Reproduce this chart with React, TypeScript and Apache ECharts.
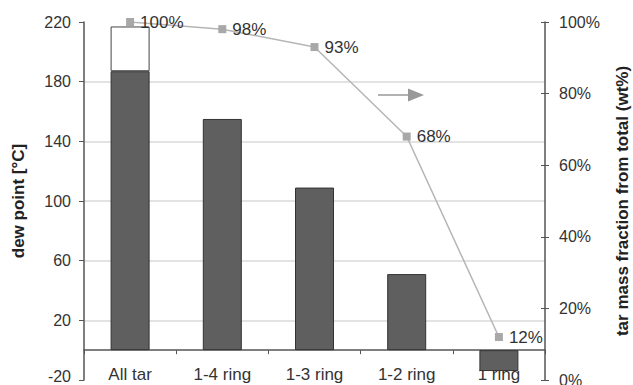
import React, { useEffect, useRef } from "react";
import * as echarts from "echarts";

const categories = ["All tar", "1-4 ring", "1-3 ring", "1-2 ring", "1 ring"];
const dewPoint = [187, 155, 109, 51, -14];
const dewPointExtra = [30, null, null, null, null];
const massFraction = [100, 98, 93, 68, 12];
const leftTicks = { min: -20, max: 220, interval: 40 };
const rightTicks = { min: 0, max: 100, interval: 20 };

const FONT = "Liberation Sans, Arial, sans-serif";

export default function App() {
  const ref = useRef<HTMLDivElement>(null);
  useEffect(() => {
    if (!ref.current) return;
    const chart = echarts.init(ref.current, undefined, { renderer: "svg" });
    chart.setOption({
      animation: false,
      backgroundColor: "#fff",
      textStyle: { fontFamily: FONT },
      grid: {
        left: 84,
        right: 88,
        top: 22,
        bottom: 5,
        containLabel: false,
        outerBoundsMode: "none",
      },
      xAxis: {
        type: "category",
        data: categories,
        axisLine: { show: true, onZero: true, lineStyle: { color: "#555", width: 1.5 } },
        axisTick: { show: true, length: 4, lineStyle: { color: "#555" } },
        axisLabel: { color: "#333", fontSize: 17, margin: -14, fontFamily: FONT },
        splitLine: { show: false },
      },
      yAxis: [
        {
          type: "value",
          position: "left",
          min: leftTicks.min,
          max: leftTicks.max,
          interval: leftTicks.interval,
          name: "dew point [°C]",
          nameLocation: "middle",
          nameGap: 57,
          nameRotate: 90,
          nameTextStyle: { fontSize: 17, fontWeight: "bold", color: "#222", fontFamily: FONT },
          axisLine: { show: true, lineStyle: { color: "#555", width: 1.5 } },
          axisTick: { show: true, length: 5, lineStyle: { color: "#555" } },
          axisLabel: {
            color: "#333",
            fontSize: 16,
            margin: 13,
            fontFamily: FONT,
            formatter: (v: number) => (v === leftTicks.min ? `{m|${v}}` : `${v}`),
            rich: {
              m: {
                color: "#333",
                fontSize: 16,
                fontFamily: FONT,
                padding: [0, 0, 8, 0],
              },
            },
          },
          splitLine: {
            show: true,
            showMinLine: false,
            showMaxLine: false,
            lineStyle: { color: "#dadada", width: 1.5 },
          },
        },
        {
          type: "value",
          position: "right",
          min: rightTicks.min,
          max: rightTicks.max,
          interval: rightTicks.interval,
          name: "tar mass fraction from total (wt%)",
          nameLocation: "middle",
          nameGap: 69,
          nameRotate: 90,
          nameTextStyle: { fontSize: 17, fontWeight: "bold", color: "#222", fontFamily: FONT },
          axisLine: { show: true, lineStyle: { color: "#555", width: 1.5 } },
          axisTick: { show: true, length: 4, lineStyle: { color: "#555" } },
          axisLabel: { color: "#333", fontSize: 16, margin: 14, formatter: "{value}%", fontFamily: FONT },
          splitLine: { show: false },
        },
        {
          type: "value",
          position: "right",
          min: rightTicks.min,
          max: rightTicks.max,
          interval: rightTicks.interval,
          axisLine: { show: false },
          axisTick: { show: true, inside: true, length: 4, lineStyle: { color: "#555" } },
          axisLabel: { show: false },
          splitLine: { show: false },
        },
      ],
      series: [
        {
          type: "bar",
          stack: "dew",
          data: dewPoint,
          barWidth: 39,
          itemStyle: { color: "#5f5f5f", borderColor: "#333", borderWidth: 1 },
        },
        {
          type: "bar",
          stack: "dew",
          data: dewPointExtra,
          barWidth: 39,
          itemStyle: { color: "#fff", borderColor: "#444", borderWidth: 1 },
        },
        {
          type: "line",
          yAxisIndex: 1,
          data: massFraction,
          symbol: "rect",
          symbolSize: 8,
          z: 5,
          lineStyle: { color: "#b5b5b5", width: 1.5 },
          itemStyle: { color: "#a8a8a8" },
          label: {
            show: true,
            position: "right",
            distance: 6,
            formatter: "{c}%",
            fontSize: 17,
            color: "#333",
            fontFamily: FONT,
          },
        },
      ],
      graphic: [
        {
          type: "line",
          shape: { x1: 378, y1: 95, x2: 410, y2: 95 },
          style: { stroke: "#999", lineWidth: 1.5 },
        },
        {
          type: "polygon",
          shape: { points: [[408, 88.5], [424, 95], [408, 101.5]] },
          style: { fill: "#999" },
        },
      ],
    });
    return () => chart.dispose();
  }, []);
  return (
    <div
      ref={ref}
      style={{ position: "absolute", left: 0, top: 0, width: 633, height: 385 }}
    />
  );
}
